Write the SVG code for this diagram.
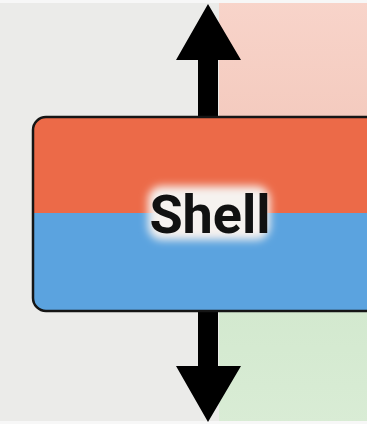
<svg xmlns="http://www.w3.org/2000/svg" width="367" height="424" viewBox="0 0 367 424">
  <style>
    .arrow { fill: #000; }
    .label { font-family: Roboto, "Liberation Sans", sans-serif; font-weight: 700; font-size: 54px; fill: #111; }
  </style>
  <defs>
    <clipPath id="boxClip">
      <rect x="33" y="117" width="350" height="194" rx="13" ry="13"/>
    </clipPath>
    <filter id="glow" x="-30%" y="-50%" width="160%" height="200%">
      <feGaussianBlur stdDeviation="4.5"/>
    </filter>
    <linearGradient id="pink" x1="0" y1="0" x2="0" y2="1">
      <stop offset="0" stop-color="#f8d4ca"/>
      <stop offset="1" stop-color="#f4cbbf"/>
    </linearGradient>
    <linearGradient id="green" x1="0" y1="0" x2="0" y2="1">
      <stop offset="0" stop-color="#d3e9cf"/>
      <stop offset="1" stop-color="#d9ecd5"/>
    </linearGradient>
  </defs>

  <g id="background">
    <rect x="0" y="0" width="367" height="424" fill="#ebebe9"/>
    <rect x="219" y="0" width="148" height="117" fill="url(#pink)"/>
    <rect x="219" y="311" width="148" height="113" fill="url(#green)"/>
    <rect x="0" y="0" width="367" height="3" fill="#f7f7f7"/>
    <rect x="0" y="421" width="367" height="3" fill="#f7f7f7"/>
  </g>

  <g id="connectors">
    <path class="arrow" d="M208,4 L241,60 L218,60 L218,118 L198,118 L198,60 L176,60 Z"/>
    <path class="arrow" d="M208,422 L241,366 L218,366 L218,310 L198,310 L198,366 L176,366 Z"/>
  </g>

  <g id="shell">
    <g clip-path="url(#boxClip)">
      <rect x="33" y="117" width="350" height="96" fill="#ec6a48"/>
      <rect x="33" y="213" width="350" height="98" fill="#5ba3df"/>
      <rect x="148" y="186" width="122" height="54" rx="14" fill="#f6f2ef" filter="url(#glow)"/>
    </g>
    <rect x="33" y="117" width="350" height="194" rx="13" ry="13" fill="none" stroke="#151515" stroke-width="2.5"/>
    <text class="label" x="210" y="233" text-anchor="middle">Shell</text>
  </g>
</svg>
